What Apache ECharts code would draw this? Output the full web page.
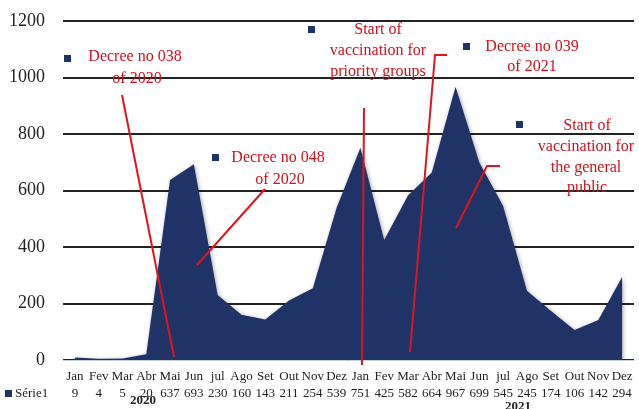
<!DOCTYPE html>
<html>
<head>
<meta charset="utf-8">
<script src="https://cdn.jsdelivr.net/npm/echarts@6/dist/echarts.min.js"></script>
<style>
html,body{margin:0;padding:0;background:#fff;}
#c{width:639px;height:409px;}
</style>
</head>
<body>
<div id="c"></div>
<script>
var months = ['Jan','Fev','Mar','Abr','Mai','Jun','jul','Ago','Set','Out','Nov','Dez',
              'Jan','Fev','Mar','Abr','Mai','Jun','jul','Ago','Set','Out','Nov','Dez'];
var serie1 = [9,4,5,20,637,693,230,160,143,211,254,539,
              751,425,582,664,967,699,545,245,174,106,142,294];
var yTicks = [0,200,400,600,800,1000,1200];
var seriesName = 'Série1';
var years = ['2020','2021'];

var serif = '"Liberation Serif","Times New Roman",serif';
var red = '#e0141e';
var redText = '#d0101c';
var navy = '#1f3366';

var chart = echarts.init(document.getElementById('c'));

function txt(x, y, s, size, color, weight) {
  return {type:'text', x:x, y:y, z:100, style:{text:s, fill:color||redText, font:(weight||'normal')+' '+(size||16)+'px '+serif, textAlign:'center', textVerticalAlign:'middle'}};
}
function sq(x, y) {
  return {type:'rect', z:100, shape:{x:x-3, y:y-3, width:7, height:7}, style:{fill:navy}};
}
function pl(points) {
  return {type:'polyline', z:100, shape:{points:points}, style:{stroke:red, lineWidth:2, fill:null}};
}

chart.setOption({
  animation:false,
  backgroundColor:'#fff',
  grid:{left:63, right:5, top:21, bottom:49},
  xAxis:[{
    type:'category', data:months, boundaryGap:true,
    axisLine:{show:true, lineStyle:{color:'#c9d2e3', width:1}},
    axisTick:{show:false},
    axisLabel:{interval:0, color:'#222', fontFamily:serif, fontSize:13, margin:10}
  },{
    type:'category', data:serie1.map(String), boundaryGap:true, position:'bottom', offset:17,
    axisLine:{show:false}, axisTick:{show:false},
    axisLabel:{interval:0, color:'#222', fontFamily:serif, fontSize:13, margin:10}
  }],
  yAxis:{
    type:'value', min:yTicks[0], max:yTicks[yTicks.length-1], interval:200,
    axisLine:{show:false}, axisTick:{show:false},
    axisLabel:{color:'#222', fontFamily:serif, fontSize:18, margin:18, formatter:function(v){return String(v);}},
    splitLine:{show:true, lineStyle:{color:'#222', width:2}}
  },
  series:[{
    name:seriesName, type:'line', data:serie1, symbol:'none',
    lineStyle:{width:0, color:navy},
    areaStyle:{color:navy, opacity:1, shadowBlur:4, shadowColor:'rgba(0,0,0,0.35)', shadowOffsetX:1, shadowOffsetY:1},
    z:2
  }],
  graphic:[
    {type:'rect', z:100, shape:{x:5, y:390, width:7, height:7}, style:{fill:navy}},
    {type:'text', x:15, y:394, z:100, style:{text:seriesName, fill:'#222', font:'13px '+serif, textVerticalAlign:'middle'}},
    txt(143, 401, years[0], 13, '#222', 'bold'),
    txt(518, 407, years[1], 13, '#222', 'bold'),
    // Decree 038
    sq(67, 58), txt(135, 57, 'Decree no 038'), txt(137, 79, 'of 2020'),
    pl([[122,95],[174,357]]),
    // Decree 048
    sq(215, 157), txt(278, 158, 'Decree no 048'), txt(280, 180, 'of 2020'),
    pl([[265,189],[197,265]]),
    // Priority groups
    sq(311, 29), txt(378, 30, 'Start of'), txt(378, 51, 'vaccination for'), txt(378, 72, 'priority groups'),
    pl([[364,108],[362,365]]),
    // Decree 039
    sq(466, 46), txt(532, 47, 'Decree no 039'), txt(532, 67, 'of 2021'),
    pl([[447,55],[435,55],[410,352]]),
    // General public
    sq(519, 124), txt(587, 126, 'Start of'), txt(586, 147, 'vaccination for'), txt(586, 168, 'the general'), txt(587, 188, 'public'),
    pl([[500,166],[487,166],[456,228]])
  ]
});
</script>
</body>
</html>
